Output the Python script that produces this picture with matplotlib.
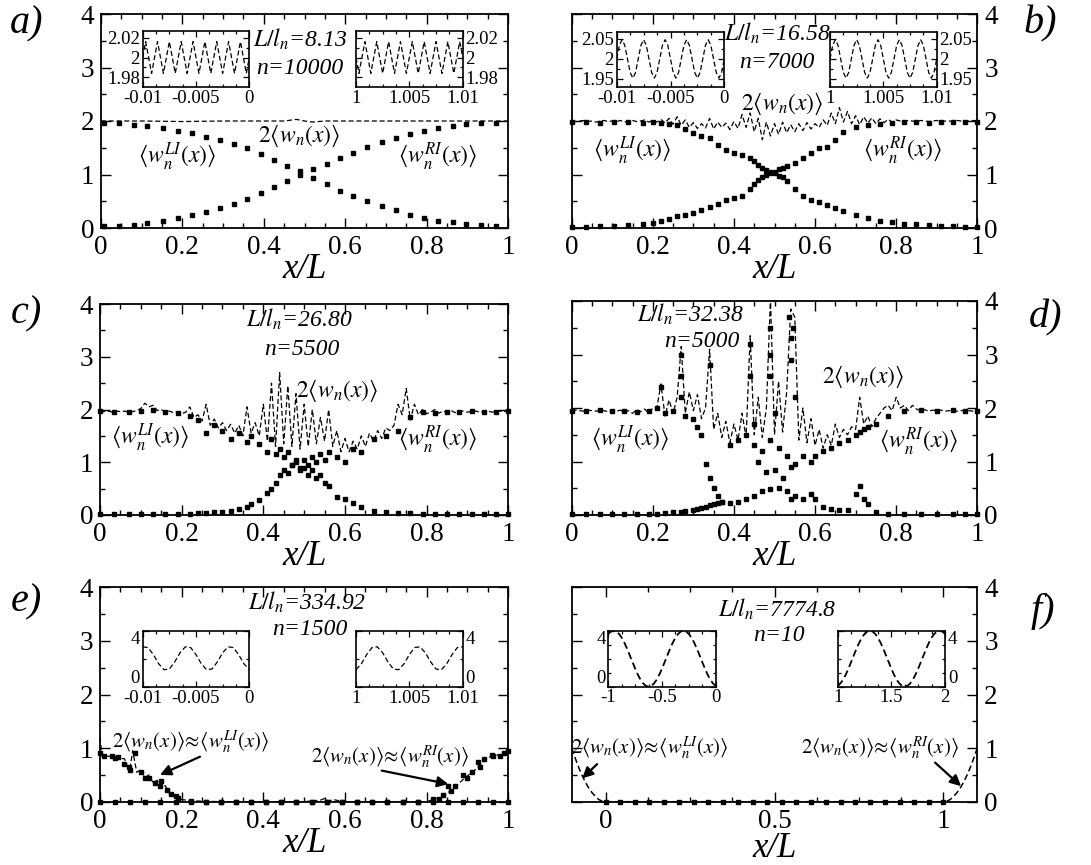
import numpy as np
import matplotlib
matplotlib.use('Agg')
import matplotlib.pyplot as plt
from matplotlib.ticker import MultipleLocator, FixedLocator

plt.rcParams['font.family'] = ['Liberation Serif', 'DejaVu Serif']
plt.rcParams['mathtext.fontset'] = 'stix'

# ---------------- data ----------------
# panel a
a_x = [0.008, 0.045, 0.08, 0.114, 0.153, 0.188, 0.223, 0.257, 0.292, 0.327, 0.359, 0.392, 0.424, 0.457,
       0.49, 0.522, 0.555, 0.588, 0.62, 0.653, 0.69, 0.725, 0.759, 0.794, 0.829, 0.864, 0.898, 0.933, 0.971]
a_LI = [1.97, 1.96, 1.93, 1.90, 1.87, 1.82, 1.77, 1.71, 1.65, 1.57, 1.49, 1.39, 1.28, 1.16, 1.06, 0.93, 0.83,
        0.70, 0.60, 0.51, 0.42, 0.33, 0.25, 0.19, 0.14, 0.11, 0.08, 0.06, 0.04]
a_RI = [0.03, 0.04, 0.06, 0.09, 0.14, 0.19, 0.24, 0.30, 0.37, 0.45, 0.55, 0.65, 0.77, 0.88, 1.0, 1.10, 1.20,
        1.31, 1.41, 1.51, 1.60, 1.69, 1.75, 1.82, 1.87, 1.91, 1.94, 1.96, 1.97]
a_wx = [0.0, 0.1, 0.2, 0.3, 0.4, 0.45, 0.48, 0.5, 0.52, 0.55, 0.6, 0.7, 0.8, 0.9, 1.0]
a_w = [2.0, 2.0, 1.99, 2.0, 2.0, 2.0, 2.03, 2.0, 1.98, 2.0, 2.0, 2.0, 2.0, 2.0, 2.0]
a_inL = [2.0, 2.016, 2.0, 1.984, 2.0, 2.016, 2.0, 1.984, 2.0, 2.016, 2.0, 1.984, 2.0, 2.016, 2.0, 1.984,
         2.0, 2.016, 2.0, 1.984, 2.0, 2.016, 2.0, 1.984, 2.0, 2.016, 2.0, 1.984, 2.0, 2.016, 2.0, 1.984,
         2.0, 2.016, 2.0, 1.984, 2.0]
a_inR = [2.0, 1.984, 2.0, 2.016, 2.0, 1.984, 2.0, 2.016, 2.0, 1.984, 2.0, 2.016, 2.0, 1.984, 2.0, 2.016,
         2.0, 1.984, 2.0, 2.016, 2.0, 1.984, 2.0, 2.016, 2.0, 1.984, 2.0, 2.016, 2.0, 1.984, 2.0, 2.016,
         2.0, 1.984, 2.0, 2.016, 2.0]

# panel b
b_w = [2.0, 1.99, 2.0, 2.01, 1.99, 2.0, 1.98, 2.0, 2.01, 1.99, 2.0, 1.99, 2.01, 1.98, 2.0, 2.01, 1.99, 2.0,
       2.02, 1.98, 2.01,
       1.98, 2.03, 1.96, 2.05, 1.94, 2.08, 1.92, 2.02, 1.88, 1.97,
       1.86, 1.95, 1.87, 2.05, 1.85, 1.98, 1.88, 1.96, 1.84, 1.99,
       1.86, 2.12, 1.88, 2.15, 1.80, 2.05, 1.65, 1.98, 1.72, 1.95,
       1.75, 1.98, 1.78, 1.93, 1.80, 1.95, 1.82, 1.97, 1.85, 1.95,
       1.88, 2.02, 1.92, 2.15, 1.95, 2.25, 1.98, 2.18, 1.95, 2.10,
       1.93, 2.08, 1.96, 2.06, 1.95, 2.04, 1.97, 2.03, 1.98, 2.02,
       2.0, 1.99, 2.01, 2.0, 1.98, 2.01, 2.0, 1.99, 2.0, 2.01, 1.99, 2.0, 2.0, 1.99, 2.01, 2.0, 1.99, 2.0,
       2.01, 2.0]
b_x = [0.0, 0.035, 0.07, 0.105, 0.14, 0.175, 0.2, 0.22, 0.24, 0.26, 0.28, 0.30, 0.32, 0.34, 0.36, 0.38,
       0.40, 0.42, 0.44, 0.45, 0.46, 0.47, 0.48, 0.49, 0.50, 0.51, 0.52, 0.53, 0.55, 0.57, 0.59, 0.61, 0.63,
       0.65, 0.67, 0.70, 0.73, 0.76, 0.79, 0.82, 0.85, 0.88, 0.91, 0.94, 0.97, 1.0]
b_LI = [1.98, 1.98, 1.97, 1.98, 1.99, 1.97, 1.98, 1.96, 1.94, 1.92, 1.85, 1.78, 1.72, 1.68, 1.55, 1.45,
        1.4, 1.36, 1.3, 1.26, 1.18, 1.12, 1.08, 1.05, 1.02, 0.98, 0.95, 0.88, 0.72, 0.6, 0.53, 0.48, 0.43,
        0.38, 0.32, 0.25, 0.18, 0.14, 0.11, 0.08, 0.07, 0.05, 0.04, 0.03, 0.02, 0.02]
b_RI = [0.02, 0.02, 0.03, 0.04, 0.06, 0.08, 0.1, 0.13, 0.17, 0.22, 0.25, 0.28, 0.33, 0.4, 0.45, 0.52,
        0.56, 0.6, 0.72, 0.82, 0.9, 0.95, 1.0, 1.02, 1.05, 1.1, 1.12, 1.15, 1.22, 1.3, 1.4, 1.5, 1.52,
        1.65, 1.8, 1.88, 1.92, 1.95, 1.97, 1.98, 1.98, 1.97, 1.98, 1.99, 1.98, 1.98]
b_in = [2.0, 2.034, 2.048, 2.034, 2.0, 1.966, 1.952, 1.966, 2.0, 2.034, 2.048, 2.034, 2.0, 1.966, 1.952,
        1.966, 2.0, 2.034, 2.048, 2.034, 2.0, 1.966, 1.952, 1.966, 2.0, 2.034, 2.048, 2.034, 2.0, 1.966,
        1.952, 1.966, 2.0, 2.034, 2.048, 2.034, 2.0, 1.966, 1.952, 1.966, 2.0]

# panel c
c_w = [1.97, 1.96, 1.97, 1.95, 1.97, 1.96, 1.97, 1.95, 1.96, 1.98, 2.02,
       2.12, 2.05, 2.08, 1.98, 2.0, 1.95, 1.97, 1.94, 1.96, 1.92,
       1.95, 2.05, 1.85, 1.9, 1.78, 2.1, 1.7, 1.82, 1.65, 1.75,
       1.6, 1.72, 1.55, 1.7, 1.5, 2.05, 1.55, 1.75, 1.5, 2.1,
       1.4, 2.5, 1.3, 2.7, 1.35, 2.45, 1.3, 2.3, 1.25, 2.1,
       1.3, 2.0, 1.35, 1.85, 1.4, 2.0, 1.3, 1.6, 1.2, 1.45,
       1.2, 1.4, 1.25, 1.5, 1.3, 1.55, 1.4, 1.6, 1.45, 1.65,
       1.6, 1.7, 2.1, 1.9, 2.4, 1.8, 2.1, 1.9, 2.0, 1.92,
       1.95, 2.0, 1.93, 1.97, 1.95, 1.98, 1.94, 1.96, 1.97, 1.95,
       1.96, 1.97, 1.95, 1.96, 1.97, 1.95, 1.96, 1.97, 1.96, 1.97]
c_x = [0, 0.035, 0.07, 0.1, 0.13, 0.16, 0.19, 0.22, 0.24, 0.26, 0.28, 0.3, 0.32, 0.34, 0.36, 0.37, 0.39,
       0.41, 0.42, 0.43, 0.44, 0.45, 0.46, 0.47, 0.48, 0.49, 0.5, 0.51, 0.52, 0.53, 0.54, 0.55, 0.56, 0.58,
       0.6, 0.62, 0.64, 0.67, 0.7, 0.73, 0.76, 0.79, 0.82, 0.85, 0.88, 0.91, 0.94, 0.97, 1.0]
c_LI = [1.97, 1.96, 1.95, 1.97, 2.0, 1.95, 1.93, 1.88, 1.8, 1.55, 1.7, 1.6, 1.45, 1.55, 1.38, 1.5, 1.35,
        1.2, 1.45, 1.15, 1.25, 1.1, 1.2, 0.95, 1.05, 0.85, 0.9, 0.75, 0.85, 0.7, 0.75, 0.6, 0.55, 0.35,
        0.3, 0.22, 0.15, 0.08, 0.05, 0.04, 0.03, 0.02, 0.02, 0.01, 0.01, 0.01, 0.01, 0.01, 0.01]
c_RI = [0.01, 0.01, 0.01, 0.01, 0.01, 0.01, 0.02, 0.02, 0.03, 0.04, 0.05, 0.06, 0.08, 0.12, 0.15, 0.2,
        0.28, 0.42, 0.5, 0.6, 0.75, 0.85, 0.8, 0.95, 1.0, 0.9, 1.05, 0.95, 1.1, 1.0, 1.15, 1.05, 1.2, 1.1,
        1.0, 1.25, 1.2, 1.45, 1.5, 1.6, 1.85, 1.95, 1.93, 1.96, 1.95, 1.97, 1.96, 1.95, 1.97]

# panel d
d_w = [1.95, 1.96, 1.95, 1.94, 1.96, 1.95, 1.94, 1.96, 1.95, 1.93, 1.95,
       1.94, 1.96, 1.92, 1.95, 1.9, 1.97, 1.93, 1.98, 1.9, 2.0,
       2.0, 2.45, 1.85, 2.15, 1.9, 2.2, 3.15, 1.9, 2.3, 1.95,
       2.25, 1.8, 2.0, 3.1, 1.6, 1.9, 1.45, 1.75, 1.35, 1.7,
       1.4, 1.9, 1.45, 3.35, 1.5, 2.2, 1.45, 2.0, 4.05, 1.5,
       2.5, 1.55, 2.3, 3.85, 3.7, 1.4, 2.0, 1.35, 1.8, 1.3,
       1.6, 1.25, 1.5, 1.3, 1.7, 1.45, 1.6, 1.5, 1.65, 1.6,
       2.2, 1.7, 1.85, 1.65, 1.8, 1.9, 2.0, 2.05, 1.95, 2.2,
       2.0, 2.05, 1.95, 2.05, 1.98, 1.95, 1.97, 1.94, 1.96, 1.95,
       1.96, 1.94, 1.95, 1.96, 1.94, 1.95, 1.96, 1.95, 1.94, 1.95]
d_x = [0, 0.035, 0.07, 0.1, 0.13, 0.16, 0.19, 0.21, 0.23, 0.25, 0.27, 0.28, 0.3, 0.31, 0.32, 0.33, 0.34,
       0.35, 0.36, 0.37, 0.39, 0.41, 0.43, 0.45, 0.47, 0.49, 0.51, 0.53, 0.54, 0.55, 0.57, 0.59, 0.6, 0.62,
       0.64, 0.66, 0.68, 0.7, 0.71, 0.72, 0.73, 0.75, 0.78, 0.82, 0.86, 0.9, 0.94, 0.97, 1.0]
d_LI = [1.95, 1.95, 1.96, 1.94, 1.95, 1.93, 1.95, 2.0, 1.9, 1.95, 2.2, 1.85, 1.8, 1.65, 1.5, 0.95, 0.7,
        0.5, 0.35, 0.25, 0.22, 0.25, 0.3, 0.35, 0.45, 0.48, 0.5, 0.45, 0.3, 0.35, 0.3, 0.4, 0.3, 0.15,
        0.12, 0.1, 0.1, 0.4, 0.55, 0.3, 0.2, 0.05, 0.02, 0.01, 0.01, 0.01, 0.01, 0.01, 0.01]
d_RI = [0.01, 0.01, 0.01, 0.01, 0.01, 0.01, 0.02, 0.02, 0.03, 0.05, 0.06, 0.08, 0.1, 0.12, 0.13, 0.15,
        0.18, 0.2, 0.22, 0.25, 1.3, 1.4, 1.5, 1.3, 1.2, 1.4, 1.25, 1.1, 0.9, 0.95, 1.1, 1.0, 1.1, 1.2,
        1.25, 1.35, 1.4, 1.5, 1.55, 1.6, 1.65, 1.7, 1.85, 1.95, 1.97, 1.95, 1.96, 1.95, 1.95]
d_ex_x = [0.22, 0.27, 0.27, 0.34, 0.44, 0.44, 0.49, 0.49, 0.49, 0.535, 0.54, 0.54, 0.545, 0.46, 0.48,
          0.5, 0.52, 0.45, 0.5, 0.55]
d_ex_y = [2.4, 3.0, 2.6, 2.8, 3.2, 2.6, 3.5, 3.0, 2.6, 3.7, 3.3, 2.9, 3.5, 1.0, 0.8, 0.85, 0.7, 1.7, 1.9, 2.2]

# panel e
e_wx = [0, 0.005, 0.02, 0.04, 0.06, 0.07, 0.075, 0.08, 0.09, 0.1, 0.11, 0.12, 0.13, 0.14, 0.15, 0.16,
        0.17, 0.18, 0.19, 0.2, 0.22, 0.25, 0.3, 0.5, 0.54, 0.55, 0.56, 0.57, 0.6, 0.8, 0.82, 0.83, 0.84,
        0.85, 0.86, 0.87, 0.88, 0.89, 0.9, 0.91, 0.92, 0.93, 0.94, 0.95, 0.96, 0.97, 0.98, 0.99, 0.995, 1.0]
e_w = [1.2, 0.85, 0.85, 0.82, 0.8, 0.6, 0.7, 0.95, 0.55, 0.6, 0.45, 0.5, 0.35, 0.4, 0.25, 0.3, 0.15, 0.12,
       0.06, 0.04, 0.02, 0.01, 0.0, 0.0, 0.03, 0.06, 0.01, 0.04, 0.0, 0.0, 0.05, 0.08, 0.12, 0.15, 0.22,
       0.28, 0.35, 0.42, 0.48, 0.55, 0.6, 0.68, 0.75, 0.82, 0.85, 0.88, 0.85, 0.9, 0.88, 1.05]
e_x = [0.0, 0.037, 0.074, 0.111, 0.148, 0.185, 0.222, 0.259, 0.296, 0.333, 0.370, 0.407, 0.444, 0.481,
       0.519, 0.556, 0.593, 0.630, 0.667, 0.704, 0.741, 0.778, 0.815, 0.852, 0.889, 0.926, 0.963, 1.0]
e_LI = [0.9, 0.82, 0.6, 0.45, 0.3, 0.1, 0.01, 0.0, 0.0, 0.0, 0.0, 0.0, 0.0, 0.0, 0.0, 0.0, 0.0, 0.0,
        0.0, 0.0, 0.0, 0.0, 0.0, 0.0, 0.0, 0.0, 0.0, 0.0]
e_RI = [0.0, 0.0, 0.0, 0.0, 0.0, 0.0, 0.0, 0.0, 0.0, 0.0, 0.0, 0.0, 0.0, 0.0, 0.0, 0.0, 0.0, 0.0,
        0.0, 0.0, 0.0, 0.0, 0.05, 0.3, 0.5, 0.75, 0.85, 0.95]
e_ex_x = [0.01, 0.03, 0.045, 0.06, 0.07, 0.085, 0.1, 0.12, 0.135, 0.15, 0.165, 0.175, 0.19,
          0.83, 0.84, 0.86, 0.87, 0.9, 0.91, 0.93, 0.94, 0.96, 0.98, 0.99]
e_ex_y = [0.85, 0.86, 0.84, 0.7, 0.65, 0.9, 0.55, 0.45, 0.35, 0.38, 0.22, 0.15, 0.06,
          0.05, 0.12, 0.2, 0.3, 0.45, 0.55, 0.65, 0.8, 0.88, 0.85, 0.9]
e_inL = [2.86, 2.81, 2.31, 1.66, 1.24, 1.29, 1.79, 2.44, 2.86, 2.81, 2.31, 1.66, 1.24, 1.29, 1.79, 2.44,
         2.86, 2.81, 2.31, 1.66, 1.24]
e_inR = [1.24, 1.66, 2.31, 2.81, 2.86, 2.44, 1.79, 1.29, 1.24, 1.66, 2.31, 2.81, 2.86, 2.44, 1.79, 1.29,
         1.24, 1.66, 2.31, 2.81, 2.86]

# panel f
f_wx = [-0.1, -0.09, -0.08, -0.07, -0.06, -0.05, -0.04, -0.03, -0.02, -0.01, 0.0, 0.5, 1.0, 1.01, 1.02,
        1.03, 1.04, 1.05, 1.06, 1.07, 1.08, 1.09, 1.1]
f_w = [1.0, 0.82, 0.65, 0.5, 0.37, 0.26, 0.17, 0.1, 0.04, 0.01, 0.0, 0.0, 0.0, 0.01, 0.04, 0.1, 0.17,
       0.26, 0.37, 0.5, 0.65, 0.82, 1.0]
f_x = [0.0, 0.043, 0.087, 0.13, 0.174, 0.217, 0.261, 0.304, 0.348, 0.391, 0.435, 0.478, 0.522, 0.565,
       0.609, 0.652, 0.696, 0.739, 0.783, 0.826, 0.87, 0.913, 0.957, 1.0]
f_y = [0.0, 0.0, 0.0, 0.0, 0.0, 0.0, 0.0, 0.0, 0.0, 0.0, 0.0, 0.0, 0.0, 0.0, 0.0, 0.0, 0.0, 0.0, 0.0,
       0.0, 0.0, 0.0, 0.0, 0.0]
f_inL = [3.77, 3.94, 4.0, 3.94, 3.77, 3.50, 3.14, 2.71, 2.24, 1.76, 1.29, 0.86, 0.50, 0.23, 0.06, 0.0,
         0.06, 0.23, 0.50, 0.86, 1.29, 1.76, 2.24, 2.71, 3.14, 3.50, 3.77, 3.94, 4.0, 3.94, 3.77, 3.50,
         3.14, 2.71, 2.24, 1.76, 1.29, 0.86, 0.50, 0.23, 0.06]
f_inR = [0.06, 0.23, 0.50, 0.86, 1.29, 1.76, 2.24, 2.71, 3.14, 3.50, 3.77, 3.94, 4.0, 3.94, 3.77, 3.50,
         3.14, 2.71, 2.24, 1.76, 1.29, 0.86, 0.50, 0.23, 0.06, 0.0, 0.06, 0.23, 0.50, 0.86, 1.29, 1.76,
         2.24, 2.71, 3.14, 3.50, 3.77, 3.94, 4.0, 3.94, 3.77]

main_xticks = [0, 0.2, 0.4, 0.6, 0.8, 1.0]
main_xlabels = ['0', '0.2', '0.4', '0.6', '0.8', '1']
f_xticks = [0, 0.5, 1.0]
f_xlabels = ['0', '0.5', '1']
yticks = [0, 1, 2, 3, 4]
ylabels = ['0', '1', '2', '3', '4']

# ---------------- figure ----------------
W, H = 1091, 865
fig = plt.figure(figsize=(W / 100, H / 100), dpi=100)


def rect(l, t, r, b):
    return [l / W, 1 - b / H, (r - l) / W, (b - t) / H]


DASH = (0, (4, 2.2))
LW = 0.9
MS = 2.7


def style_main(ax, xlim, xt, xl, xminor, right=False, lpad=-5):
    ax.set_xlim(*xlim)
    ax.set_ylim(0, 4)
    ax.xaxis.set_major_locator(FixedLocator(xt))
    ax.set_xticklabels(xl)
    ax.xaxis.set_minor_locator(MultipleLocator(xminor))
    ax.yaxis.set_major_locator(FixedLocator(yticks))
    ax.set_yticklabels(ylabels)
    ax.yaxis.set_minor_locator(MultipleLocator(0.5))
    ax.tick_params(which='both', direction='in', top=True, right=True, bottom=True, left=True,
                   labelsize=19.5, width=1.0)
    ax.tick_params(which='major', length=7, pad=5)
    ax.tick_params(which='minor', length=3.5)
    if right:
        ax.tick_params(labelleft=False, labelright=True)
    for s in ax.spines.values():
        s.set_linewidth(1.3)
    ax.set_xlabel('x/L', fontsize=25, style='italic', labelpad=lpad)


def style_inset(ax, xlim, ylim, xt, xl, xminor, yt, yl, yminor, right=False, shift=False):
    ax.set_xlim(*xlim)
    ax.set_ylim(*ylim)
    ax.xaxis.set_major_locator(FixedLocator(xt))
    ax.set_xticklabels(xl)
    ax.xaxis.set_minor_locator(FixedLocator(xminor))
    ax.yaxis.set_major_locator(FixedLocator(yt))
    ax.set_yticklabels(yl)
    ax.yaxis.set_minor_locator(FixedLocator(yminor))
    ax.tick_params(which='both', direction='in', top=True, right=True, bottom=True, left=True,
                   labelsize=13.5, width=0.9, pad=2)
    ax.tick_params(which='major', length=4.5)
    ax.tick_params(which='minor', length=2.5)
    if right:
        ax.tick_params(labelleft=False, labelright=True)
    for s in ax.spines.values():
        s.set_linewidth(1.2)
    if shift:
        labs = ax.get_yticklabels(which='major')
        labs[0].set_verticalalignment('bottom')
        labs[-1].set_verticalalignment('top')


def marks(ax, x, y):
    ax.plot(x, y, ls='none', marker='s', ms=MS, mfc='k', mec='k', clip_on=False, zorder=3)


def dline(ax, x, y, lw=LW):
    ax.plot(x, y, color='k', ls=DASH, lw=lw, zorder=2)


def txt(ax, x, y, s, size=16):
    ax.text(x, y, s, fontsize=size, style='italic', ha='center', va='baseline')


LIlab = r'$\langle w_n^{LI}(x)\rangle$'
RIlab = r'$\langle w_n^{RI}(x)\rangle$'
Wlab = r'$2\langle w_n(x)\rangle$'
LIapprox = r'$2\langle w_n(x)\rangle\!\approx\!\langle w_n^{LI}(x)\rangle$'
RIapprox = r'$2\langle w_n(x)\rangle\!\approx\!\langle w_n^{RI}(x)\rangle$'

xl_neg = ['-0.01', '-0.005', '0']
xl_pos = ['1', '1.005', '1.01']
mn_neg = [-0.00875, -0.0075, -0.00625, -0.00375, -0.0025, -0.00125]
mn_pos = [1.00125, 1.0025, 1.00375, 1.00625, 1.0075, 1.00875]

# ---- a ----
ax = fig.add_axes(rect(101, 14, 508, 228))
style_main(ax, (0, 1), main_xticks, main_xlabels, 0.05)
dline(ax, a_wx, a_w)
marks(ax, a_x, a_LI)
marks(ax, a_x, a_RI)
txt(ax, 0.489, 3.39, r'$L/l_n$=8.13', 17)
txt(ax, 0.489, 2.88, 'n=10000', 17)
txt(ax, 0.487, 1.61, Wlab, 17)
txt(ax, 0.186, 1.21, LIlab, 17)
txt(ax, 0.826, 1.21, RIlab, 17)

ins = fig.add_axes(rect(142.7, 30.7, 249.3, 87.3))
style_inset(ins, (-0.01, 0), (1.970, 2.027), [-0.01, -0.005, 0], xl_neg, mn_neg,
            [1.98, 2.0, 2.02], ['1.98', '2', '2.02'], [1.99, 2.01])
dline(ins, np.linspace(-0.01, 0, len(a_inL)), a_inL)
ins = fig.add_axes(rect(356, 30.7, 462.7, 87.3))
style_inset(ins, (1, 1.01), (1.970, 2.027), [1, 1.005, 1.01], xl_pos, mn_pos,
            [1.98, 2.0, 2.02], ['1.98', '2', '2.02'], [1.99, 2.01], right=True)
dline(ins, np.linspace(1, 1.01, len(a_inR)), a_inR)

# ---- b ----
ax = fig.add_axes(rect(571.7, 14, 977.3, 228))
style_main(ax, (0, 1), main_xticks, main_xlabels, 0.05, right=True)
dline(ax, np.linspace(0, 1, len(b_w)), b_w)
marks(ax, b_x, b_LI)
marks(ax, b_x, b_RI)
txt(ax, 0.507, 3.51, r'$L/l_n$=16.58', 17)
txt(ax, 0.505, 2.99, 'n=7000', 17)
txt(ax, 0.52, 2.21, Wlab, 17)
txt(ax, 0.15, 1.31, LIlab, 17)
txt(ax, 0.815, 1.31, RIlab, 17)

ins = fig.add_axes(rect(616.7, 31.7, 724.3, 87.3))
style_inset(ins, (-0.01, 0), (1.929, 2.068), [-0.01, -0.005, 0], xl_neg, mn_neg,
            [1.95, 2.0, 2.05], ['1.95', '2', '2.05'], [1.975, 2.025])
dline(ins, np.linspace(-0.01, 0, len(b_in)), b_in)
ins = fig.add_axes(rect(830, 31.7, 936.7, 87.3))
style_inset(ins, (1, 1.01), (1.929, 2.068), [1, 1.005, 1.01], xl_pos, mn_pos,
            [1.95, 2.0, 2.05], ['1.95', '2', '2.05'], [1.975, 2.025], right=True)
dline(ins, np.linspace(1, 1.01, len(b_in)), b_in)

# ---- c ----
ax = fig.add_axes(rect(100, 304, 508.3, 515))
style_main(ax, (0, 1), main_xticks, main_xlabels, 0.05)
dline(ax, np.linspace(0, 1, len(c_w)), c_w)
marks(ax, c_x, c_LI)
marks(ax, c_x, c_RI)
txt(ax, 0.487, 3.57, r'$L/l_n$=26.80', 17)
txt(ax, 0.494, 3.03, 'n=5500', 17)
txt(ax, 0.581, 2.24, Wlab, 17)
txt(ax, 0.122, 1.33, LIlab, 17)
txt(ax, 0.826, 1.30, RIlab, 17)

# ---- d ----
ax = fig.add_axes(rect(571.7, 301, 977.3, 515))
style_main(ax, (0, 1), main_xticks, main_xlabels, 0.05, right=True)
dline(ax, np.linspace(0, 1, len(d_w)), d_w)
marks(ax, d_x, d_LI)
marks(ax, d_x, d_RI)
marks(ax, d_ex_x, d_ex_y)
txt(ax, 0.293, 3.61, r'$L/l_n$=32.38', 17)
txt(ax, 0.32, 3.14, 'n=5000', 17)
txt(ax, 0.719, 2.46, Wlab, 17)
txt(ax, 0.143, 1.28, LIlab, 17)
txt(ax, 0.855, 1.24, RIlab, 17)

# ---- e ----
ax = fig.add_axes(rect(100, 587.3, 508.3, 801.7))
style_main(ax, (0, 1), main_xticks, main_xlabels, 0.05)
dline(ax, e_wx, e_w)
marks(ax, e_x, e_LI)
marks(ax, e_x, e_RI)
marks(ax, e_ex_x, e_ex_y)
txt(ax, 0.506, 3.58, r'$L/l_n$=334.92', 17)
txt(ax, 0.514, 3.11, 'n=1500', 17)
txt(ax, 0.222, 1.0, LIapprox, 15)
txt(ax, 0.71, 0.72, RIapprox, 15)
arr = dict(arrowstyle='-|>', lw=1.6, color='k', mutation_scale=16, shrinkA=0, shrinkB=0)
ax.annotate('', xy=(0.147, 0.50), xytext=(0.245, 0.84), arrowprops=arr)
ax.annotate('', xy=(0.853, 0.33), xytext=(0.69, 0.58), arrowprops=arr)

ins = fig.add_axes(rect(142.7, 630.7, 249.3, 687.3))
style_inset(ins, (-0.01, 0), (0, 4), [-0.01, -0.005, 0], xl_neg, mn_neg,
            [0, 4], ['0', '4'], [2], shift=True)
dline(ins, np.linspace(-0.01, 0, len(e_inL)), e_inL)
ins = fig.add_axes(rect(356, 630.7, 462.7, 687.3))
style_inset(ins, (1, 1.01), (0, 4), [1, 1.005, 1.01], xl_pos, mn_pos,
            [0, 4], ['0', '4'], [2], right=True, shift=True)
dline(ins, np.linspace(1, 1.01, len(e_inR)), e_inR)

# ---- f ----
ax = fig.add_axes(rect(571.7, 587.3, 977.3, 801.7))
style_main(ax, (-0.1, 1.1), f_xticks, f_xlabels, 0.125, right=True, lpad=-1)
dline(ax, f_wx, f_w, 1.1)
marks(ax, f_x, f_y)
txt(ax, 0.508, 3.45, r'$L/l_n$=7774.8', 17)
txt(ax, 0.513, 2.99, 'n=10', 17)
txt(ax, 0.13, 0.90, LIapprox, 15)
txt(ax, 0.813, 0.90, RIapprox, 15)
ax.annotate('', xy=(-0.069, 0.435), xytext=(-0.025, 0.70), arrowprops=arr)
ax.annotate('', xy=(1.052, 0.29), xytext=(0.975, 0.73), arrowprops=arr)

ins = fig.add_axes(rect(608.3, 630.7, 715.7, 686.7))
style_inset(ins, (-1, 0), (0, 4), [-1, -0.5, 0], ['-1', '-0.5', '0'],
            [-0.875, -0.75, -0.625, -0.375, -0.25, -0.125],
            [0, 4], ['0', '4'], [1, 2, 3], shift=True)
dline(ins, np.linspace(-1, 0, len(f_inL)), f_inL, 1.3)
ins = fig.add_axes(rect(837.7, 630.7, 945, 686.7))
style_inset(ins, (1, 2), (0, 4), [1, 1.5, 2], ['1', '1.5', '2'],
            [1.125, 1.25, 1.375, 1.625, 1.75, 1.875],
            [0, 4], ['0', '4'], [1, 2, 3], right=True, shift=True)
dline(ins, np.linspace(1, 2, len(f_inR)), f_inR, 1.3)

# panel labels
for lab, px, py in [('a)', 27, 24), ('b)', 1040, 24), ('c)', 26, 314), ('d)', 1046, 318),
                    ('e)', 26, 602), ('f)', 1043, 611)]:
    fig.text(px / W, 1 - py / H, lab, fontsize=29, style='italic', ha='center', va='center')

fig.savefig('out.png', dpi=100)
